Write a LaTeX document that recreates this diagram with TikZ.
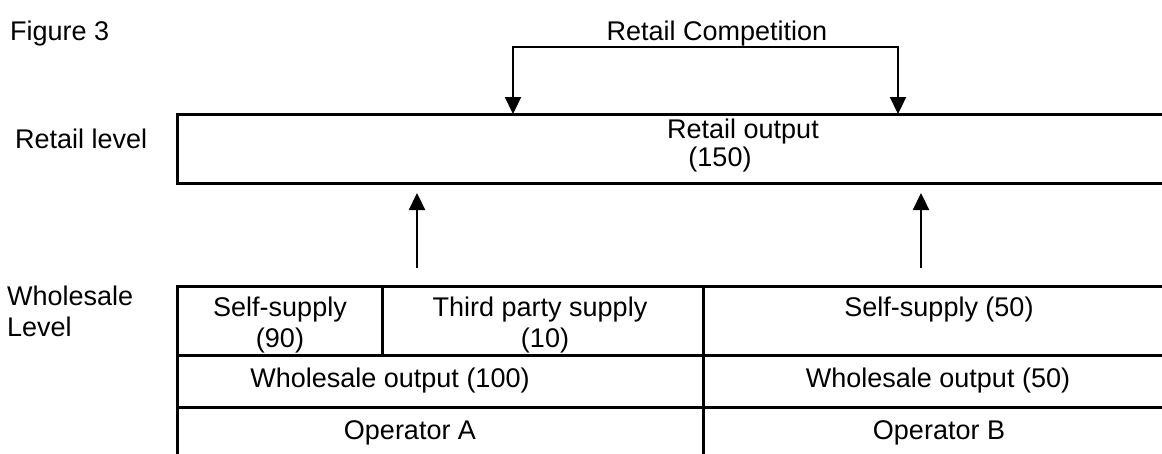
\documentclass[tikz,border=0pt]{standalone}
\usepackage{fontspec}
\setmainfont{Liberation Sans}
\usetikzlibrary{arrows.meta}
\begin{document}
\begin{tikzpicture}[x=1pt,y=-1pt,
  lbl/.style={font=\fontsize{27}{31}\selectfont, inner sep=0pt, anchor=base},
  lbll/.style={lbl, anchor=base west},
  rule/.style={line width=3pt},
  flow/.style={line width=2.3pt, -{Triangle[length=17pt,width=16pt]}},
  bothflow/.style={line width=2.3pt, {Triangle[length=17pt,width=16pt]}-{Triangle[length=17pt,width=16pt]}}]
\useasboundingbox (0,0) rectangle (1162,453);

% Retail level band (open to the right)
\draw[rule] (1170,114) -| (177,183) -- (1170,183);

% Wholesale table
\draw[rule] (177,460) -- (177,286) -- (1170,286);
\draw[rule] (177,355) -- (1170,355);
\draw[rule] (177,407) -- (1170,407);
\draw[rule] (703,286) -- (703,460);
\draw[rule] (382,286) -- (382,355);

% Connector end points
\coordinate (compL) at (513,47);
\coordinate (compR) at (898,47);
\coordinate (retInL) at (513,114);
\coordinate (retInR) at (898,114);
\coordinate (upA0) at (417,268);
\coordinate (upA1) at (417,193);
\coordinate (upB0) at (921,268);
\coordinate (upB1) at (921,193);

% Retail competition bracket
\draw[bothflow] (retInL) -- (compL) -- (compR) -- (retInR);

% Supply arrows
\draw[flow] (upA0) -- (upA1);
\draw[flow] (upB0) -- (upB1);

% Labels
\node[lbll] (fig) at (10,40) {Figure 3};
\node[lbl] (comp) at (717,40) {Retail Competition};
\node[lbll] (retlvl) at (15,148) {Retail level};
\node[lbl] (retout) at (743,138) {Retail output};
\node[lbl] (retnum) at (720,166) {(150)};
\node[lbll] (whl1) at (7,305) {Wholesale};
\node[lbll] (whl2) at (7,336) {Level};
\node[lbl] (ssA) at (280,316) {Self-supply};
\node[lbl] (ssAn) at (280,347) {(90)};
\node[lbl] (tps) at (540,316) {Third party supply};
\node[lbl] (tpsn) at (545,347) {(10)};
\node[lbl] (ssB) at (939,316) {Self-supply (50)};
\node[lbl] (woA) at (390,387) {Wholesale output (100)};
\node[lbl] (woB) at (938,387) {Wholesale output (50)};
\node[lbl] (opA) at (410,439) {Operator A};
\node[lbl] (opB) at (939,439) {Operator B};
\end{tikzpicture}
\end{document}
